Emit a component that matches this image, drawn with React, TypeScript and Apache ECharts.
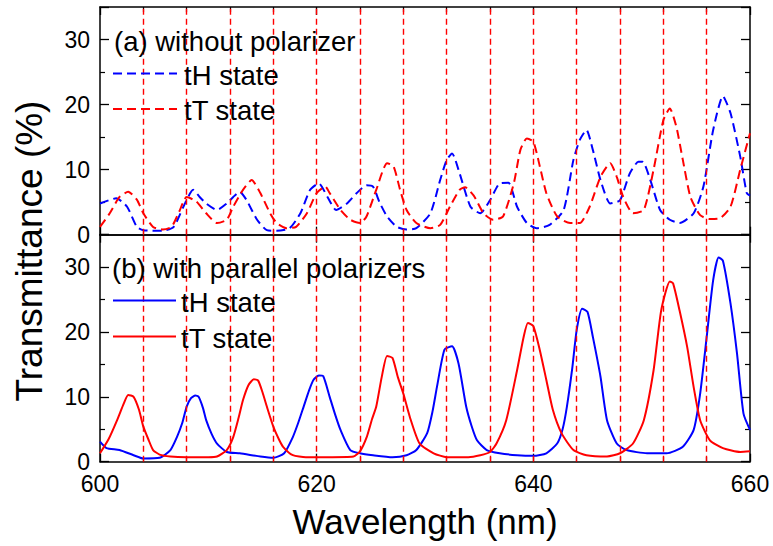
import React, { useEffect, useRef } from "react";
import * as echarts from "echarts";

// ---- Data (wavelength nm, transmittance %) ----
const aTH: [number, number][] = [
  [600, 4.8], [601.5, 5.6], [602.5, 4.3], [603.4, 1.2], [604, 0.7], [605.8, 0.6], [606.8, 1.2],
  [607.7, 4.3], [608.6, 6.9], [609.2, 5.8], [609.8, 4.8], [610.8, 3.8], [611.7, 4.8], [612.3, 5.8],
  [612.9, 6.6], [613.5, 5.4], [614.5, 2.3], [615.4, 0.7], [616.3, 0.6], [617.5, 1.0], [618.5, 3.3],
  [619.4, 6.9], [620.2, 7.9], [621, 5.8], [621.8, 3.8], [622.8, 4.8], [623.7, 6.4], [624.6, 7.6],
  [625.2, 7.4], [625.8, 5.0], [626.5, 2.8], [627.4, 1.2], [628.3, 0.8], [629.2, 1.0], [630.5, 3.3],
  [631.4, 8.4], [632, 11.5], [632.5, 12.5], [633.2, 9.4], [634.2, 4.3], [635.1, 3.3], [636, 5.3],
  [636.9, 7.9], [637.7, 8.0], [638.5, 4.3], [639.4, 1.8], [640.3, 1.0], [641.5, 1.5], [642.8, 3.8],
  [643.7, 11.5], [644.3, 14.6], [644.9, 16.1], [645.5, 13.0], [646.2, 8.4], [647.1, 4.8], [648, 5.3],
  [648.9, 9.4], [649.7, 11.2], [650.1, 11.2], [650.8, 8.4], [651.7, 3.8], [652.6, 2.3], [653.5, 1.8],
  [654.8, 3.3], [655.7, 7.4], [656.6, 16.1], [657.5, 21.3], [658.2, 18.7], [659.1, 12.0], [659.7, 6.4],
  [660, 6.0],
];

const aTT: [number, number][] = [
  [600, 1.2], [600.9, 3.3], [601.8, 5.8], [602.6, 6.6], [603.4, 5.4], [604, 3.3], [604.9, 1.2],
  [605.8, 0.8], [606.6, 1.2], [607.3, 3.5], [608, 5.8], [608.9, 5.1], [609.8, 3.3], [610.8, 1.8],
  [611.7, 2.3], [612.3, 4.3], [613.2, 6.9], [614, 8.4], [614.8, 6.4], [615.7, 3.3], [616.3, 1.8],
  [617.2, 1.0], [618.1, 1.2], [619.1, 3.3], [620, 6.4], [620.8, 7.4], [621.2, 6.4], [622.2, 3.8],
  [623.1, 2.3], [624, 1.8], [624.6, 2.8], [625.5, 6.9], [626.5, 11.0], [627.1, 10.5], [627.7, 6.9],
  [628.3, 3.8], [629.2, 1.8], [630.5, 1.0], [631.4, 1.5], [632.3, 4.3], [633.2, 6.9], [633.7, 7.3],
  [634.5, 6.0], [635.4, 3.3], [636.3, 2.3], [637.2, 2.8], [638.2, 7.9], [638.8, 13.0], [639.4, 14.8],
  [640, 14.3], [640.6, 10.5], [641.2, 6.4], [642.2, 2.8], [643.4, 1.8], [644.3, 1.8], [645.2, 4.3],
  [646.2, 8.9], [647.1, 11.0], [647.7, 8.9], [648.3, 5.8], [649.2, 3.3], [650.2, 3.8], [651.1, 10.0],
  [652, 17.6], [652.6, 19.4], [653.2, 16.6], [653.8, 11.5], [654.5, 5.8], [655.4, 3.0], [656.3, 2.4],
  [657.2, 2.5], [658.2, 4.3], [659.1, 10.0], [660, 15.6],
];

const bTH: [number, number][] = [
  [600, 3.1], [600.6, 2.1], [601.8, 1.8], [603.1, 1.0], [604, 0.5], [605.5, 0.6], [606.5, 1.8],
  [607.1, 3.8], [607.6, 6.0], [608, 8.5], [608.4, 9.8], [608.8, 10.2], [609.1, 10.0], [609.5, 8.3],
  [609.8, 6.4], [610.3, 4.3], [610.8, 2.8], [611.7, 1.5], [612.9, 1.3], [614.8, 0.8], [616, 0.6],
  [617, 1.3], [617.8, 3.8], [618.3, 6.0], [618.8, 8.5], [619.3, 11.0], [619.7, 12.6], [620.2, 13.3],
  [620.6, 13.2], [621.2, 10.0], [621.7, 7.3], [622.2, 4.9], [623.1, 1.8], [624, 1.3], [625.2, 1.0],
  [627, 0.7], [628.3, 1.0], [629.2, 1.8], [630.2, 4.4], [630.7, 7.8], [631.1, 11.5], [631.8, 17.3],
  [632.5, 17.8], [633.1, 15.1], [633.8, 8.5], [634.3, 5.5], [634.8, 3.3], [635.7, 1.8], [636.9, 1.3],
  [638.5, 1.0], [640, 0.9], [641.2, 1.3], [642.2, 2.8], [642.7, 5.0], [643.1, 8.5], [643.6, 14.5],
  [644, 20.3], [644.5, 23.6], [645, 23.1], [645.5, 19.2], [646.2, 13.1], [646.8, 6.4], [647.7, 2.8],
  [648.6, 1.8], [650.5, 1.3], [652.3, 1.3], [653.8, 2.3], [654.8, 4.9], [655.4, 10.5], [656, 19.2],
  [656.6, 28.0], [657.1, 31.5], [657.5, 31.0], [658.2, 24.4], [658.8, 16.7], [659.4, 7.4], [660, 4.9],
];

const bTT: [number, number][] = [
  [600, 1.3], [600.8, 3.5], [601.6, 6.5], [602.2, 9.0], [602.6, 10.3], [603.1, 10.0], [603.6, 8.0],
  [604, 5.4], [604.5, 3.3], [604.9, 1.8], [605.5, 1.1], [606.5, 0.8], [608, 0.7], [610, 0.7],
  [610.8, 0.8], [611.7, 1.8], [612.3, 3.8], [612.8, 6.8], [613.2, 9.5], [613.7, 11.8], [614.2, 12.7],
  [614.6, 12.5], [615, 10.7], [615.4, 8.5], [616, 5.4], [616.5, 3.5], [616.9, 2.3], [617.8, 1.0],
  [619, 0.7], [621, 0.7], [623.4, 0.8], [624, 1.6], [624.6, 3.7], [625.1, 6.5], [625.5, 8.5],
  [626, 13.0], [626.5, 16.3], [627, 16.0], [627.5, 13.0], [628, 10.5], [628.6, 6.9], [629.5, 2.8],
  [630.8, 1.3], [632, 0.7], [634, 0.7], [635.1, 1.0], [636, 1.5], [636.6, 2.8], [637.5, 6.4],
  [638.5, 14.1], [639.1, 19.2], [639.5, 21.4], [640, 20.9], [640.6, 17.2], [641.2, 12.6], [641.8, 8.0],
  [642.6, 4.4], [643.7, 1.8], [644.9, 1.0], [646.8, 0.8], [648, 1.3], [649.2, 2.8], [650.2, 6.4],
  [651.1, 14.1], [651.8, 23.3], [652.6, 27.8], [652.9, 27.5], [653.5, 23.3], [654.2, 17.7],
  [654.8, 11.5], [655.4, 6.4], [656.3, 3.3], [657.5, 2.1], [659.1, 1.5], [660, 1.6],
];

const markerWavelengths = [604, 608, 612, 616, 620, 624, 628, 632, 636, 640, 644, 648, 652, 656];
const xRange = [600, 660];
const yRange = [0, 35];

const panelTitles = ["(a) without polarizer", "(b) with parallel polarizers"];
const legendNames = ["tH state", "tT state"];
const xTitle = "Wavelength (nm)";
const yTitle = "Transmittance (%)";

const FONT = "'Liberation Sans', Arial, sans-serif";
const BLUE = "#0000ff";
const RED = "#ff0000";

export default function App() {
  const ref = useRef<HTMLDivElement>(null);

  useEffect(() => {
    if (!ref.current) return;
    const chart = echarts.init(ref.current, null, { renderer: "svg" });

    const axisLine = { show: true, onZero: false, lineStyle: { color: "#000", width: 1.5 } };
    const xAx = (gridIndex: number, position: string, showLabel: boolean) => ({
      type: "value",
      gridIndex,
      position,
      min: xRange[0],
      max: xRange[1],
      interval: 20,
      axisLine,
      axisTick: { show: true, inside: true, length: 8, lineStyle: { color: "#000", width: 1.3 } },
      minorTick: { show: true, splitNumber: 5, length: 5, lineStyle: { color: "#000", width: 1.2 } },
      splitLine: { show: false },
      minorSplitLine: { show: false },
      axisLabel: {
        show: showLabel,
        margin: 11,
        fontSize: 23,
        color: "#000",
        fontFamily: FONT,
      },
    });
    const yAx = (gridIndex: number, position: string, showLabel: boolean) => ({
      type: "value",
      gridIndex,
      position,
      min: yRange[0],
      max: yRange[1],
      interval: 10,
      axisLine,
      axisTick: { show: true, inside: true, length: 9, lineStyle: { color: "#000", width: 1.3 } },
      minorTick: { show: true, splitNumber: 2, length: 5, lineStyle: { color: "#000", width: 1.2 } },
      splitLine: { show: false },
      minorSplitLine: { show: false },
      axisLabel: {
        show: showLabel,
        showMaxLabel: false,
        margin: 10,
        fontSize: 23,
        color: "#000",
        fontFamily: FONT,
      },
    });

    const markStyle = { color: RED, opacity: 1, width: 1.4, type: [6, 4] };
    const makeMarkLine = () => ({
      silent: true,
      symbol: ["none", "none"],
      label: { show: false },
      emphasis: { disabled: true },
      lineStyle: { ...markStyle },
      data: markerWavelengths.map((v) => ({ xAxis: v, lineStyle: { ...markStyle } })),
    });

    const markerSeries = (xAxisIndex: number, yAxisIndex: number) => ({
      type: "line",
      name: "markers",
      data: [],
      xAxisIndex,
      yAxisIndex,
      symbol: "none",
      itemStyle: { color: RED },
      lineStyle: { color: RED },
      z: 1,
      markLine: makeMarkLine(),
    });

    const line = (
      name: string,
      data: [number, number][],
      color: string,
      dashed: boolean,
      xAxisIndex: number,
      yAxisIndex: number
    ) => ({
      type: "line",
      name,
      data,
      xAxisIndex,
      yAxisIndex,
      showSymbol: false,
      symbol: "none",
      smooth: 0.2,
      lineStyle: { color, width: 2, type: dashed ? [9, 5] : "solid" },
      itemStyle: { color },
      z: 3,
    });

    const textEl = (text: string, x: number, y: number, size: number, align = "left") => ({
      type: "text",
      x,
      y,
      z: 10,
      style: {
        text,
        fontSize: size,
        fontFamily: FONT,
        fill: "#000",
        textAlign: align,
        textVerticalAlign: "middle",
        align,
        verticalAlign: "middle",
      },
    });
    const legendLine = (x1: number, x2: number, y: number, color: string, dashed: boolean) => ({
      type: "line",
      z: 10,
      shape: { x1, y1: y, x2, y2: y },
      style: { stroke: color, lineWidth: 2, lineDash: dashed ? [9, 5] : null },
    });

    chart.setOption({
      animation: false,
      backgroundColor: "#fff",
      grid: [
        { left: 100, top: 7, width: 650, height: 227.7 },
        { left: 100, top: 234.7, width: 650, height: 227 },
      ],
      xAxis: [xAx(0, "bottom", false), xAx(0, "top", false), xAx(1, "bottom", true), xAx(1, "top", false)],
      yAxis: [yAx(0, "left", true), yAx(0, "right", false), yAx(1, "left", true), yAx(1, "right", false)],
      series: [
        markerSeries(0, 0),
        markerSeries(2, 2),
        line(legendNames[0], aTH, BLUE, true, 0, 0),
        line(legendNames[1], aTT, RED, true, 0, 0),
        line(legendNames[0] + " (b)", bTH, BLUE, false, 2, 2),
        line(legendNames[1] + " (b)", bTT, RED, false, 2, 2),
      ],
      graphic: [
        textEl(panelTitles[0], 114, 41, 27.5),
        legendLine(113, 177, 73.5, BLUE, true),
        textEl(legendNames[0], 184, 75, 27.5),
        legendLine(113, 177, 109, RED, true),
        textEl(legendNames[1], 184, 110, 27.5),
        textEl(panelTitles[1], 112, 268, 27.5),
        legendLine(113, 176, 300.5, BLUE, false),
        textEl(legendNames[0], 181, 302, 27.5),
        legendLine(113, 176, 336.5, RED, false),
        textEl(legendNames[1], 181, 338, 27.5),
        textEl(xTitle, 425, 521, 35, "center"),
        {
          type: "text",
          x: 29,
          y: 251,
          rotation: Math.PI / 2,
          z: 10,
          style: {
            text: yTitle,
            fontSize: 37,
            fontFamily: FONT,
            fill: "#000",
            textAlign: "center",
            textVerticalAlign: "middle",
            align: "center",
            verticalAlign: "middle",
          },
        },
      ],
    });

    return () => chart.dispose();
  }, []);

  return (
    <div
      ref={ref}
      style={{ position: "fixed", left: 0, top: 0, width: 773, height: 546, background: "#fff" }}
    />
  );
}
